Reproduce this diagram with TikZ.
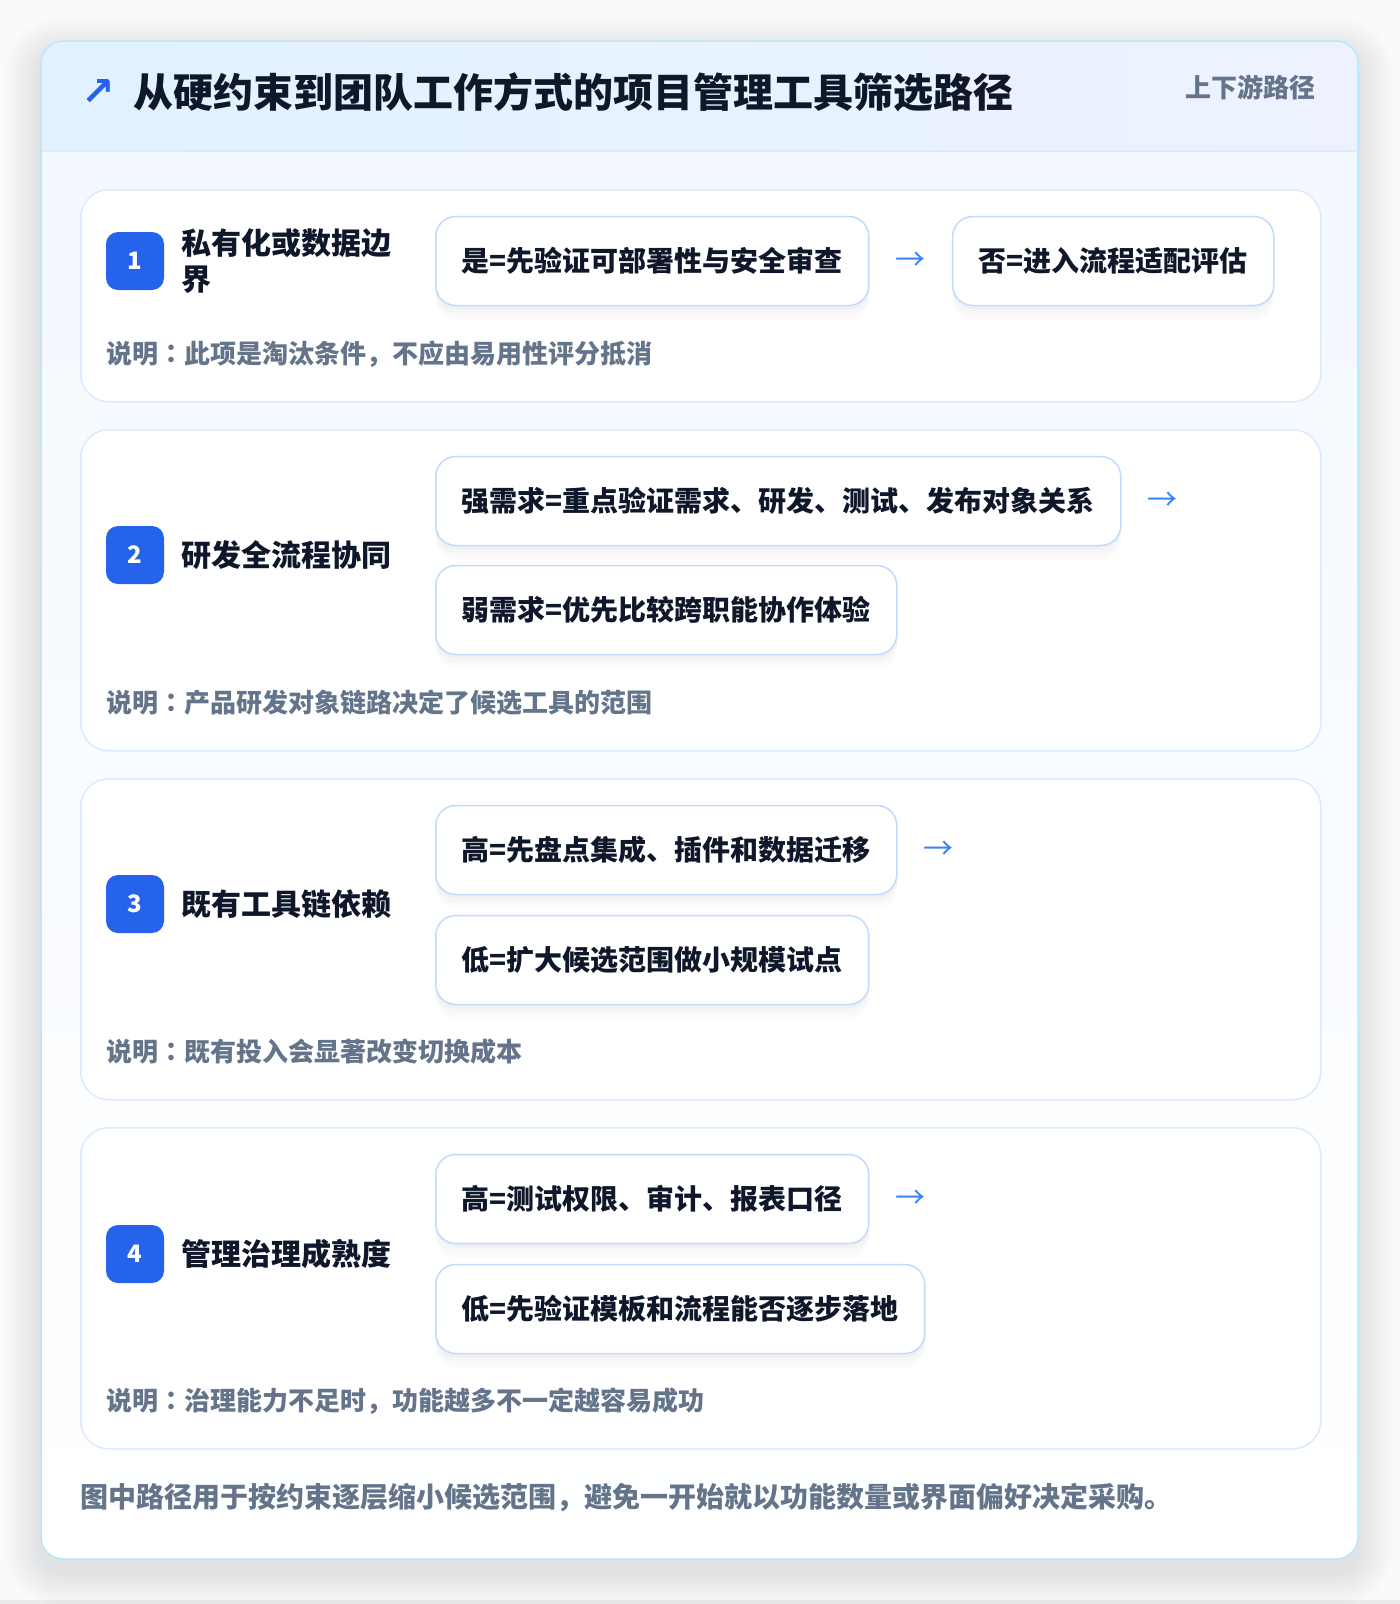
\documentclass[tikz,border=0pt]{standalone}
\usepackage{fontspec}
\setmainfont{Noto Sans CJK SC}
\newfontfamily\symbolfont{DejaVu Sans}
\newfontfamily\punctfont{Noto Sans CJK KR}
\newcommand{\pc}[1]{{\punctfont\bfseries #1}}
\usetikzlibrary{positioning}
\definecolor{pagebg}{HTML}{F9FAFB}
\definecolor{ink}{HTML}{0F172A}
\definecolor{muted}{HTML}{64748B}
\definecolor{badgeblue}{HTML}{2563EB}
\definecolor{arrowblue}{HTML}{3B82F6}
\definecolor{optline}{HTML}{BFDBFE}
\definecolor{secline}{HTML}{DBEAFE}
\definecolor{cardline}{HTML}{BAE6FD}
\definecolor{headl}{HTML}{E0F2FE}
\definecolor{headr}{HTML}{EEF2FF}
\definecolor{cardtop}{HTML}{F2F8FF}

\begin{document}
\begin{tikzpicture}[x=1pt,y=-1pt,
   sectionbox/.style={draw=secline,line width=1.5pt,rounded corners=28pt,fill=white,
      minimum width=1240pt,anchor=north west,inner sep=0pt},
   badge/.style={fill=badgeblue,rounded corners=12pt,minimum size=58pt,inner sep=0pt,
      text=white,font=\bfseries\fontsize{24pt}{24pt}\selectfont},
   steplabel/.style={anchor=west,align=left,inner sep=0pt,text=ink,
      font=\bfseries\fontsize{30pt}{36pt}\selectfont},
   optbox/.style={draw=optline,line width=1.5pt,rounded corners=20pt,fill=white,
      minimum height=89pt,inner xsep=26pt,anchor=west,text=ink,
      font=\bfseries\fontsize{28pt}{28pt}\selectfont,
      preaction={draw=none,fill=black,opacity=0.018,transform canvas={yshift=-4pt}},
      preaction={draw=none,fill=black,opacity=0.018,transform canvas={yshift=-9pt}},
      preaction={draw=none,fill=black,opacity=0.014,transform canvas={yshift=-14pt}}},
   flow/.style={inner sep=0pt,text=arrowblue,font=\fontsize{30pt}{30pt}\selectfont},
   note/.style={anchor=west,inner sep=0pt,text=muted,font=\bfseries\fontsize{26pt}{26pt}\selectfont}]
   \useasboundingbox (0,0) rectangle (1400,1604);
   \fill[pagebg] (0,0) rectangle (1400,1604);
   \fill[black!8] (0,1600) rectangle (1400,1604);

   % card shadow, card and header
   \foreach \s in {3,6,...,36}
      \fill[black,opacity=0.007,rounded corners=22pt+\s pt] (41-\s,41-\s+12) rectangle (1358+\s,1559+\s+12);
   \fill[white,rounded corners=22pt] (41,41) rectangle (1358,1559);
   \shade[top color=cardtop,bottom color=white,rounded corners=22pt] (41,41) rectangle (1358,1559);
   \shade[left color=headl,right color=headr,rounded corners=22pt]
      (41,151) -- (41,41) -- (1358,41) [sharp corners] -- (1358,151) -- cycle;
   \draw[secline,line width=1.5pt] (41,151) -- (1358,151);
   \draw[cardline,line width=1.5pt,rounded corners=22pt] (41,41) rectangle (1358,1559);

   \node[text=badgeblue,inner sep=0pt,font=\symbolfont\bfseries\fontsize{40pt}{40pt}\selectfont] (icon) at (98,92) {↗};
   \node[anchor=west,inner sep=0pt,text=ink,font=\bfseries\fontsize{40pt}{40pt}\selectfont] (title) at (133,92)
      {从硬约束到团队工作方式的项目管理工具筛选路径};
   \node[anchor=east,inner sep=0pt,text=muted,font=\bfseries\fontsize{26pt}{26pt}\selectfont] (tag) at (1316,87) {上下游路径};

   % step 1
   \node[sectionbox,minimum height=212pt] (sec1) at (80,189) {};
   \node[badge] (n1) at (135,261) {1};
   \node[steplabel,right=17pt of n1] (l1) {私有化或数据边\\界};
   \node[optbox] (o1a) at (435,261) {是=先验证可部署性与安全审查};
   \node[flow,right=26pt of o1a] (f1) {→};
   \node[optbox,right=26pt of f1] (o1b) {否=进入流程适配评估};
   \node[note] (d1) at (106,354) {说明\pc{：}此项是淘汰条件\pc{，}不应由易用性评分抵消};

   % step 2
   \node[sectionbox,minimum height=321pt] (sec2) at (80,429) {};
   \node[badge] (n2) at (135,555) {2};
   \node[steplabel,right=17pt of n2] (l2) {研发全流程协同};
   \node[optbox] (o2a) at (435,501) {强需求=重点验证需求、研发、测试、发布对象关系};
   \node[flow,right=26pt of o2a] (f2) {→};
   \node[optbox] (o2b) at (435,610) {弱需求=优先比较跨职能协作体验};
   \node[note] (d2) at (106,703) {说明\pc{：}产品研发对象链路决定了候选工具的范围};

   % step 3
   \node[sectionbox,minimum height=321pt] (sec3) at (80,778) {};
   \node[badge] (n3) at (135,904) {3};
   \node[steplabel,right=17pt of n3] (l3) {既有工具链依赖};
   \node[optbox] (o3a) at (435,850) {高=先盘点集成、插件和数据迁移};
   \node[flow,right=26pt of o3a] (f3) {→};
   \node[optbox] (o3b) at (435,960) {低=扩大候选范围做小规模试点};
   \node[note] (d3) at (106,1052) {说明\pc{：}既有投入会显著改变切换成本};

   % step 4
   \node[sectionbox,minimum height=321pt] (sec4) at (80,1127) {};
   \node[badge] (n4) at (135,1254) {4};
   \node[steplabel,right=17pt of n4] (l4) {管理治理成熟度};
   \node[optbox] (o4a) at (435,1199) {高=测试权限、审计、报表口径};
   \node[flow,right=26pt of o4a] (f4) {→};
   \node[optbox] (o4b) at (435,1309) {低=先验证模板和流程能否逐步落地};
   \node[note] (d4) at (106,1401) {说明\pc{：}治理能力不足时\pc{，}功能越多不一定越容易成功};

   \node[anchor=west,inner sep=0pt,text=muted,font=\bfseries\fontsize{28pt}{28pt}\selectfont] (foot) at (80,1497)
      {图中路径用于按约束逐层缩小候选范围\pc{，}避免一开始就以功能数量或界面偏好决定采购。};
\end{tikzpicture}
\end{document}
